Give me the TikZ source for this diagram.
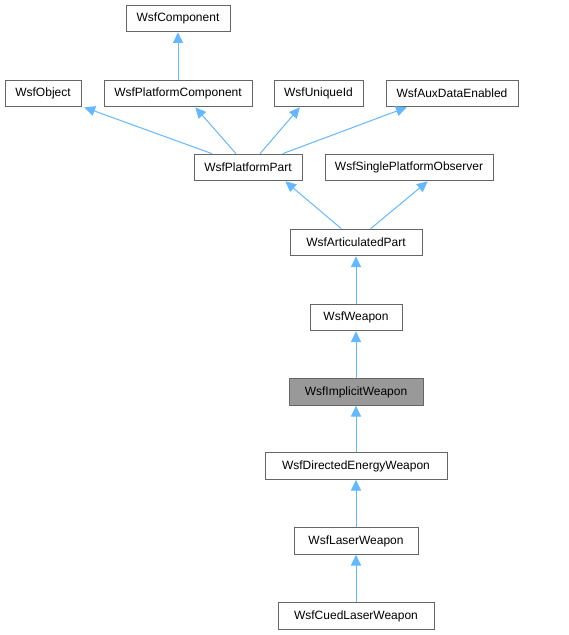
\documentclass[tikz,border=0pt]{standalone}
\usepackage{fontspec}
\setmainfont{Liberation Sans}
\usetikzlibrary{arrows.meta}
\definecolor{edgeblue}{HTML}{63B8FF}
\definecolor{boxgray}{HTML}{666666}
\definecolor{curgray}{HTML}{999999}
\begin{document}
\begin{tikzpicture}[x=0.75pt,y=-0.75pt,
		cls/.style={draw=boxgray,fill=white,line width=0.75pt,minimum height=20pt,inner xsep=5pt,inner ysep=0pt,font=\fontsize{9}{11}\selectfont},
		cur/.style={cls,fill=curgray},
		inh/.style={draw=edgeblue,line width=0.75pt,-{Triangle[length=8pt,width=7.5pt]}}]
				\useasboundingbox (0,0) rectangle (568,635);
				
				\node[cls,minimum width=78pt] (comp) at (178,18.5) {WsfComponent};
				\node[cls,minimum width=57pt] (obj) at (43,93.5) {WsfObject};
				\node[cls,minimum width=111pt] (pcomp) at (178,93.5) {WsfPlatformComponent};
				\node[cls,minimum width=66.75pt] (uid) at (318.5,93.5) {WsfUniqueId};
				\node[cls,minimum width=99pt] (aux) at (452,93.5) {WsfAuxDataEnabled};
				\node[cls,minimum width=81pt] (ppart) at (248,167.5) {WsfPlatformPart};
				\node[cls,minimum width=126pt] (spo) at (409,167.5) {WsfSinglePlatformObserver};
				\node[cls,minimum width=99pt] (art) at (356,242.5) {WsfArticulatedPart};
				\node[cls,minimum width=69pt] (wpn) at (356,317.5) {WsfWeapon};
				\node[cur,minimum width=100.5pt] (imp) at (356,392) {WsfImplicitWeapon};
				\node[cls,minimum width=136.5pt] (dew) at (356,466) {WsfDirectedEnergyWeapon};
				\node[cls,minimum width=93pt] (lsr) at (356,541) {WsfLaserWeapon};
				\node[cls,minimum width=117pt] (cued) at (356,616) {WsfCuedLaserWeapon};
				
				\draw [inh] (pcomp) -- (comp);
				\draw [inh] ([xshift=-27pt]ppart.north) -- ([xshift=31pt]obj.south);
				\draw [inh] ([xshift=-9pt]ppart.north) -- ([xshift=13pt]pcomp.south);
				\draw [inh] ([xshift=9pt]ppart.north) -- ([xshift=-14pt]uid.south);
				\draw [inh] ([xshift=26pt]ppart.north) -- ([xshift=-34pt]aux.south);
				\draw [inh] ([xshift=-11pt]art.north) -- ([xshift=28pt]ppart.south);
				\draw [inh] ([xshift=11pt]art.north) -- ([xshift=14pt]spo.south);
				\draw [inh] (wpn) -- (art);
				\draw [inh] (imp) -- (wpn);
				\draw [inh] (dew) -- (imp);
				\draw [inh] (lsr) -- (dew);
				\draw [inh] (cued) -- (lsr);
\end{tikzpicture}
\end{document}
